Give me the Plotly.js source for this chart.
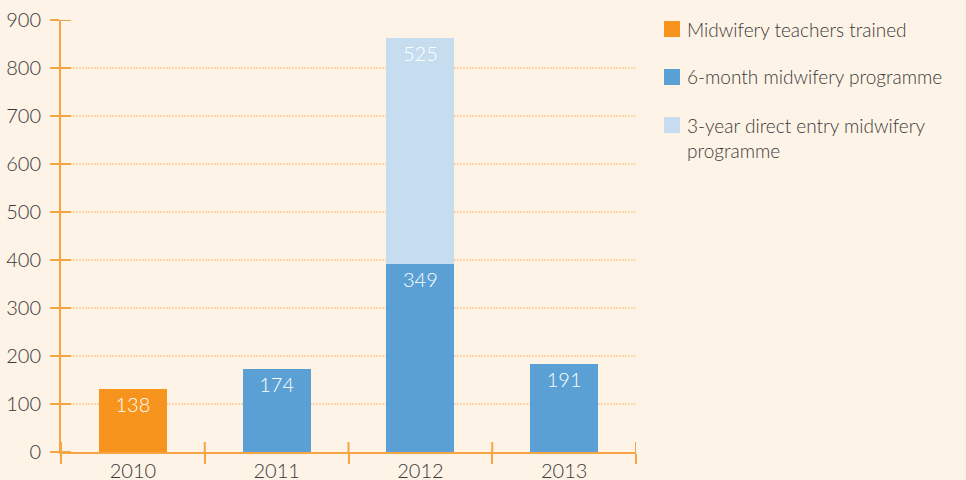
<!DOCTYPE html>
<html>
<head>
<meta charset="utf-8">
<script src="https://cdn.plot.ly/plotly-3.0.1.min.js"></script>
<style>html,body{margin:0;padding:0;background:#fef3e7;}#chart{width:966px;height:480px;}</style>
</head>
<body>
<div id="chart"></div>
<script>
// Categories
const years = ['2010', '2011', '2012', '2013'];
// Series (bar heights as drawn in the picture) and their printed labels
const teachersYears = ['2010'];
const teachersValues = [131];
const teachersLabels = ['138'];
const sixMonthYears = ['2011', '2012', '2013'];
const sixMonthValues = [172, 391, 183];
const sixMonthLabels = ['174', '349', '191'];
const threeYearYears = ['2012'];
const threeYearValues = [471];
const threeYearLabels = ['525'];
const seriesNames = ['Midwifery teachers trained', '6-month midwifery programme', '3-year direct entry midwifery<br>programme'];
const yTicks = [0, 100, 200, 300, 400, 500, 600, 700, 800, 900];

const colors = ['#f7941d', '#5aa0d4', '#c5ddef'];
const axisColor = '#f6a444';
const FONT = 'Lato, "Open Sans", sans-serif';
const textFont = {family: FONT, size: 20, color: '#ffffff', weight: 300};

function barTrace(x, y, labels, name, color) {
  return {
    type: 'bar', x: x, y: y, name: name, text: labels,
    textposition: 'inside', insidetextanchor: 'end', textangle: 0,
    insidetextfont: textFont, marker: {color: color, line: {width: 0}},
    hoverinfo: 'skip', cliponaxis: false
  };
}

const data = [
  barTrace(teachersYears, teachersValues, teachersLabels, seriesNames[0], colors[0]),
  barTrace(sixMonthYears, sixMonthValues, sixMonthLabels, seriesNames[1], colors[1]),
  barTrace(threeYearYears, threeYearValues, threeYearLabels, seriesNames[2], colors[2])
];

const L = 61, R = 636, T = 20, B = 452, W = 966, H = 480;
const pw = R - L, ph = B - T;
const px2x = p => (p - L) / pw;
const px2y = p => (B - p) / ph;

const shapes = [];
// inner half of y ticks
yTicks.forEach(v => shapes.push({type: 'line', xref: 'x', yref: 'y', xsizemode: 'pixel', xanchor: -0.5,
  x0: 0, x1: 10, y0: v, y1: v, line: {color: axisColor, width: 2}, layer: 'above'}));
// inner half of x boundary ticks
for (let i = 0; i <= years.length; i++) {
  shapes.push({type: 'line', xref: 'x', yref: 'y', ysizemode: 'pixel', yanchor: 0,
    x0: i - 0.5, x1: i - 0.5, y0: 0, y1: 10, line: {color: axisColor, width: 2}, layer: 'above'});
}
// legend squares
const legendRows = [29, 77, 125];
const annotations = [];
seriesNames.forEach((n, i) => {
  shapes.push({type: 'rect', xref: 'paper', yref: 'paper', xsizemode: 'pixel', ysizemode: 'pixel',
    xanchor: px2x(664), yanchor: px2y(legendRows[i]), x0: 0, x1: 16, y0: -8, y1: 8,
    fillcolor: colors[i], line: {width: 0}});
  const multi = n.indexOf('<br>') >= 0;
  annotations.push({xref: 'paper', yref: 'paper', x: px2x(685), y: multi ? px2y(legendRows[i] - 13) : px2y(legendRows[i]),
    xanchor: 'left', yanchor: multi ? 'top' : 'middle', align: 'left', showarrow: false, text: n,
    font: {family: FONT, size: 19, color: '#3a3a3a', weight: 300}});
});

const layout = {
  width: W, height: H,
  paper_bgcolor: '#fef3e7', plot_bgcolor: '#fef3e7',
  margin: {l: L, r: W - R, t: T, b: H - B, pad: 0},
  barmode: 'stack', bargap: 0.528, showlegend: false,
  font: {family: FONT, size: 18, color: '#3a3a3a'},
  xaxis: {type: 'category', categoryarray: years, range: [-0.5, 3.5], showgrid: false, zeroline: false,
    showline: true, linecolor: axisColor, linewidth: 2, ticks: 'outside', tickson: 'boundaries',
    ticklen: 10, tickwidth: 2, tickcolor: axisColor, tickfont: {family: FONT, size: 20, color: '#3a3a3a', weight: 300}, fixedrange: true},
  yaxis: {range: [0, 900], tickvals: yTicks, showgrid: true, gridcolor: '#fcd6a8', gridwidth: 2, griddash: '2px,1px',
    zeroline: false, showline: true, linecolor: axisColor, linewidth: 2, ticks: 'outside', ticklen: 9, tickwidth: 2,
    tickcolor: axisColor, tickfont: {family: FONT, size: 20, color: '#3a3a3a', weight: 300}, ticklabelstandoff: 5, fixedrange: true},
  shapes: shapes, annotations: annotations
};

Plotly.newPlot('chart', data, layout, {displayModeBar: false, staticPlot: true});
</script>
</body>
</html>
